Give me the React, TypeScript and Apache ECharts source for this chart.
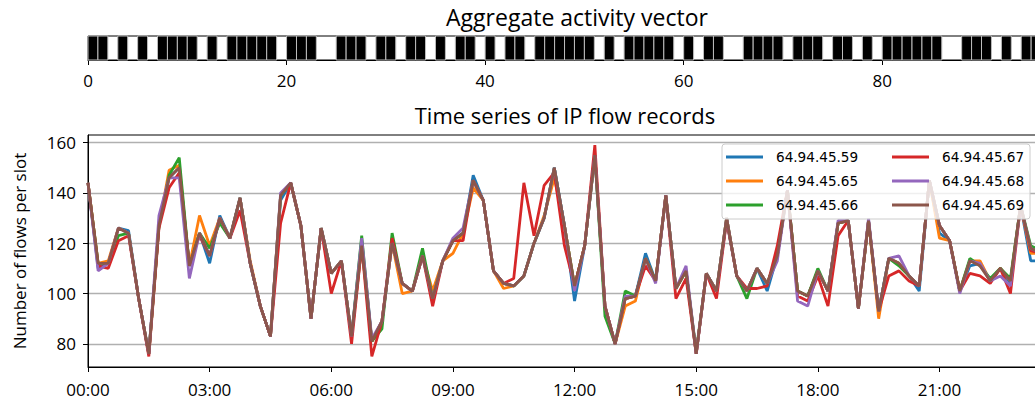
import React, { useEffect, useRef } from "react";
import * as echarts from "echarts";

// Aggregate activity vector (1 = active slot)
const activity = [
  1, 1, 0, 1, 0, 1, 0, 1, 1, 1,
  1, 0, 1, 0, 1, 1, 1, 1, 1, 0,
  1, 1, 1, 0, 0, 1, 1, 1, 0, 1,
  1, 0, 1, 1, 0, 1, 0, 1, 1, 0,
  1, 0, 1, 1, 0, 1, 1, 1, 1, 1,
  1, 0, 1, 0, 1, 1, 1, 1, 1, 0,
  1, 0, 1, 1, 0, 0, 1, 1, 1, 1,
  0, 1, 1, 1, 0, 1, 1, 0, 1, 0,
  1, 1, 1, 1, 1, 1, 0, 0, 1, 1,
  1, 0, 1, 0, 1, 1, 0,
];
const activityTicks = [0, 20, 40, 60, 80];

// 15-minute slots
const slotHours = 0.25;
const timeTicks = [0, 3, 6, 9, 12, 15, 18, 21];
const flowTicks = [80, 100, 120, 140, 160];

const ip59 = [
  144, 110, 112, 126, 125, 98, 76, 127, 146, 150,
  111, 124, 112, 131, 122, 138, 112, 95, 83, 137,
  144, 127, 90, 126, 108, 113, 83, 121, 81, 89,
  120, 104, 101, 115, 98, 113, 121, 124, 147, 137,
  109, 104, 103, 107, 120, 130, 150, 127, 97, 119,
  155, 95, 80, 98, 99, 116, 105, 139, 102, 109,
  76, 108, 101, 129, 107, 101, 110, 101, 115, 141,
  101, 99, 109, 101, 128, 129, 94, 129, 93, 114,
  112, 107, 101, 145, 124, 121, 101, 111, 112, 105,
  110, 104, 135, 113, 113, 112,
];
const ip65 = [
  144, 112, 113, 126, 124, 98, 76, 127, 149, 151,
  111, 131, 119, 130, 122, 138, 113, 95, 83, 139,
  144, 127, 90, 126, 108, 113, 83, 119, 81, 89,
  120, 100, 101, 115, 101, 113, 116, 124, 142, 137,
  109, 102, 103, 107, 120, 131, 146, 127, 103, 119,
  155, 95, 80, 95, 97, 114, 105, 139, 102, 109,
  76, 108, 101, 130, 107, 101, 110, 104, 115, 141,
  101, 99, 109, 101, 128, 129, 94, 129, 90, 114,
  112, 107, 103, 145, 122, 121, 101, 113, 113, 105,
  110, 105, 135, 116, 116, 115,
];
const ip66 = [
  144, 112, 112, 123, 124, 98, 76, 127, 147, 154,
  111, 124, 118, 128, 122, 138, 112, 95, 83, 139,
  144, 127, 90, 126, 108, 113, 83, 123, 81, 86,
  124, 104, 101, 118, 98, 113, 121, 124, 145, 137,
  109, 104, 103, 107, 120, 130, 150, 127, 103, 119,
  155, 91, 80, 101, 99, 114, 105, 139, 102, 109,
  77, 108, 101, 130, 107, 98, 110, 104, 115, 141,
  101, 99, 110, 101, 128, 129, 94, 129, 93, 114,
  111, 107, 103, 145, 127, 121, 101, 114, 111, 106,
  110, 106, 135, 119, 117, 116,
];
const ip67 = [
  144, 111, 110, 121, 123, 98, 75, 126, 142, 148,
  111, 123, 115, 130, 122, 133, 112, 95, 83, 128,
  144, 127, 90, 126, 100, 113, 80, 119, 75, 89,
  122, 104, 101, 115, 95, 113, 121, 121, 145, 137,
  109, 104, 106, 144, 123, 143, 148, 119, 103, 119,
  159, 95, 80, 98, 99, 111, 105, 139, 98, 106,
  76, 108, 98, 129, 107, 102, 102, 103, 119, 141,
  99, 97, 107, 95, 123, 129, 94, 129, 93, 107,
  109, 105, 103, 145, 127, 121, 101, 108, 107, 104,
  110, 100, 135, 117, 116, 115,
];
const ip68 = [
  144, 109, 112, 126, 124, 98, 76, 131, 146, 146,
  106, 124, 115, 130, 122, 138, 112, 95, 83, 140,
  144, 127, 90, 126, 108, 113, 83, 122, 82, 89,
  120, 104, 101, 115, 98, 113, 122, 126, 145, 137,
  109, 104, 103, 107, 120, 130, 150, 127, 101, 119,
  155, 95, 80, 99, 99, 114, 104, 139, 102, 111,
  76, 108, 101, 130, 107, 101, 110, 104, 113, 141,
  97, 95, 109, 101, 129, 129, 94, 130, 93, 114,
  115, 107, 103, 145, 127, 121, 100, 113, 112, 105,
  107, 103, 135, 118, 116, 114,
];
const ip69 = [
  144, 112, 112, 126, 124, 98, 76, 127, 146, 150,
  111, 124, 115, 130, 122, 138, 112, 95, 83, 139,
  144, 127, 90, 126, 108, 113, 83, 119, 81, 89,
  120, 104, 101, 115, 98, 113, 121, 124, 145, 137,
  109, 104, 103, 107, 120, 130, 150, 127, 103, 119,
  155, 95, 80, 98, 99, 114, 105, 139, 102, 109,
  76, 108, 101, 130, 107, 101, 110, 104, 115, 141,
  101, 99, 109, 101, 128, 129, 94, 129, 93, 114,
  112, 107, 103, 145, 127, 121, 101, 113, 111, 105,
  110, 105, 135, 118, 116, 114,
];

const seriesNames = [
  "64.94.45.59",
  "64.94.45.65",
  "64.94.45.66",
  "64.94.45.67",
  "64.94.45.68",
  "64.94.45.69",
];
const seriesValues = [ip59, ip65, ip66, ip67, ip68, ip69];
const seriesColors = ["#1f77b4", "#ff7f0e", "#2ca02c", "#d62728", "#9467bd", "#8c564b"];

const W = 1035;
const H = 399;
const FONT = "Open Sans";

export default function App() {
  const ref = useRef<HTMLDivElement>(null);

  useEffect(() => {
    if (!ref.current) return;
    const chart = echarts.init(ref.current, null, { renderer: "svg" });

    const activeSlots = activity
      .map((b, k) => (b === 1 ? [k, 1] : null))
      .filter((d) => d !== null);

    const lineSeries = seriesNames.map((name, s) => ({
      name,
      type: "line",
      xAxisIndex: 1,
      yAxisIndex: 1,
      data: seriesValues[s].map((v, i) => [i * slotHours, v]),
      showSymbol: false,
      symbol: "none",
      color: seriesColors[s],
      lineStyle: { width: 2.8, color: seriesColors[s] },
      z: 3,
    }));

    const legendText = {
      fontFamily: "DejaVu Sans",
      fontSize: 13.6,
      color: "#000",
      lineHeight: 14,
      padding: [0, 0, 0, 8],
    };

    const tickLabel = {
      fontFamily: FONT,
      fontSize: 17,
      color: "#000",
    };

    chart.setOption({
      animation: false,
      backgroundColor: "#fff",
      grid: [
        {
          left: 88,
          right: -16,
          top: 36,
          height: 24,
          show: true,
          borderColor: "#000",
          borderWidth: 1,
          backgroundColor: "transparent",
          outerBoundsMode: "none",
        },
        {
          left: 88,
          right: -16,
          top: 135,
          bottom: 32,
          show: true,
          borderColor: "#000",
          borderWidth: 1,
          backgroundColor: "transparent",
          outerBoundsMode: "none",
        },
      ],
      xAxis: [
        {
          gridIndex: 0,
          type: "value",
          min: 0,
          max: 97,
          axisLine: { show: true, lineStyle: { color: "#000", width: 1 } },
          axisTick: { show: true, length: 5, customValues: activityTicks, lineStyle: { color: "#000" } },
          axisLabel: { ...tickLabel, customValues: activityTicks, margin: 12 },
          splitLine: { show: false },
        },
        {
          gridIndex: 1,
          type: "value",
          min: 0,
          max: 23.75,
          axisLine: { show: true, lineStyle: { color: "#000", width: 1 } },
          axisTick: { show: true, length: 5, customValues: timeTicks, lineStyle: { color: "#000" } },
          axisLabel: {
            ...tickLabel,
            customValues: timeTicks,
            margin: 14,
            lineHeight: 16,
            formatter: (v: number) => `${String(Math.round(v)).padStart(2, "0")}:00`,
          },
          splitLine: { show: false },
        },
      ],
      yAxis: [
        {
          gridIndex: 0,
          type: "value",
          min: 0,
          max: 1,
          show: false,
        },
        {
          gridIndex: 1,
          type: "value",
          min: 70.8,
          max: 163,
          axisLine: { show: true, lineStyle: { color: "#000", width: 1 } },
          axisTick: { show: true, length: 5, customValues: flowTicks, lineStyle: { color: "#000" } },
          axisLabel: { ...tickLabel, customValues: flowTicks, margin: 12 },
          splitLine: { show: true, lineStyle: { color: "#b0b0b0", width: 1.3 } },
          name: "Number of flows per slot",
          nameLocation: "middle",
          nameRotate: 90,
          nameGap: 60,
          nameTextStyle: { fontFamily: FONT, fontSize: 17, color: "#000" },
        },
      ],
      legend: [
        {
          data: seriesNames.slice(0, 3),
          orient: "vertical",
          left: 726,
          top: 150,
          icon: "rect",
          itemWidth: 37,
          itemHeight: 3,
          itemGap: 10,
          padding: 0,
          selectedMode: false,
          textStyle: legendText,
          z: 20,
        },
        {
          data: seriesNames.slice(3),
          orient: "vertical",
          left: 892,
          top: 150,
          icon: "rect",
          itemWidth: 37,
          itemHeight: 3,
          itemGap: 10,
          padding: 0,
          selectedMode: false,
          textStyle: legendText,
          z: 20,
        },
      ],
      graphic: [
        {
          type: "rect",
          z: 10,
          shape: { x: 722, y: 144, width: 308, height: 75, r: 3 },
          style: { fill: "rgba(255,255,255,0.8)", stroke: "#cccccc", lineWidth: 1 },
        },
        {
          type: "text",
          x: 577,
          y: 17,
          style: {
            text: "Aggregate activity vector",
            align: "center",
            verticalAlign: "middle",
            fontFamily: FONT,
            fontSize: 23,
            fill: "#000",
          },
        },
        {
          type: "text",
          x: 565,
          y: 115,
          style: {
            text: "Time series of IP flow records",
            align: "center",
            verticalAlign: "middle",
            fontFamily: FONT,
            fontSize: 22,
            fill: "#000",
          },
        },
      ],
      series: [
        {
          type: "custom",
          xAxisIndex: 0,
          yAxisIndex: 0,
          data: activeSlots,
          encode: { x: 0, y: 1 },
          renderItem: (_params: any, api: any) => {
            const k = api.value(0);
            const p0 = api.coord([k, 1]);
            const p1 = api.coord([k + 1, 0]);
            return {
              type: "rect",
              shape: { x: p0[0], y: p0[1], width: p1[0] - p0[0], height: p1[1] - p0[1] },
              style: { fill: "#000", stroke: "#bdbdbd", lineWidth: 1 },
            };
          },
        },
        ...lineSeries,
      ],
    });

    return () => chart.dispose();
  }, []);

  return (
    <div
      ref={ref}
      style={{ position: "fixed", left: 0, top: 0, width: W, height: H, background: "#fff" }}
    />
  );
}
